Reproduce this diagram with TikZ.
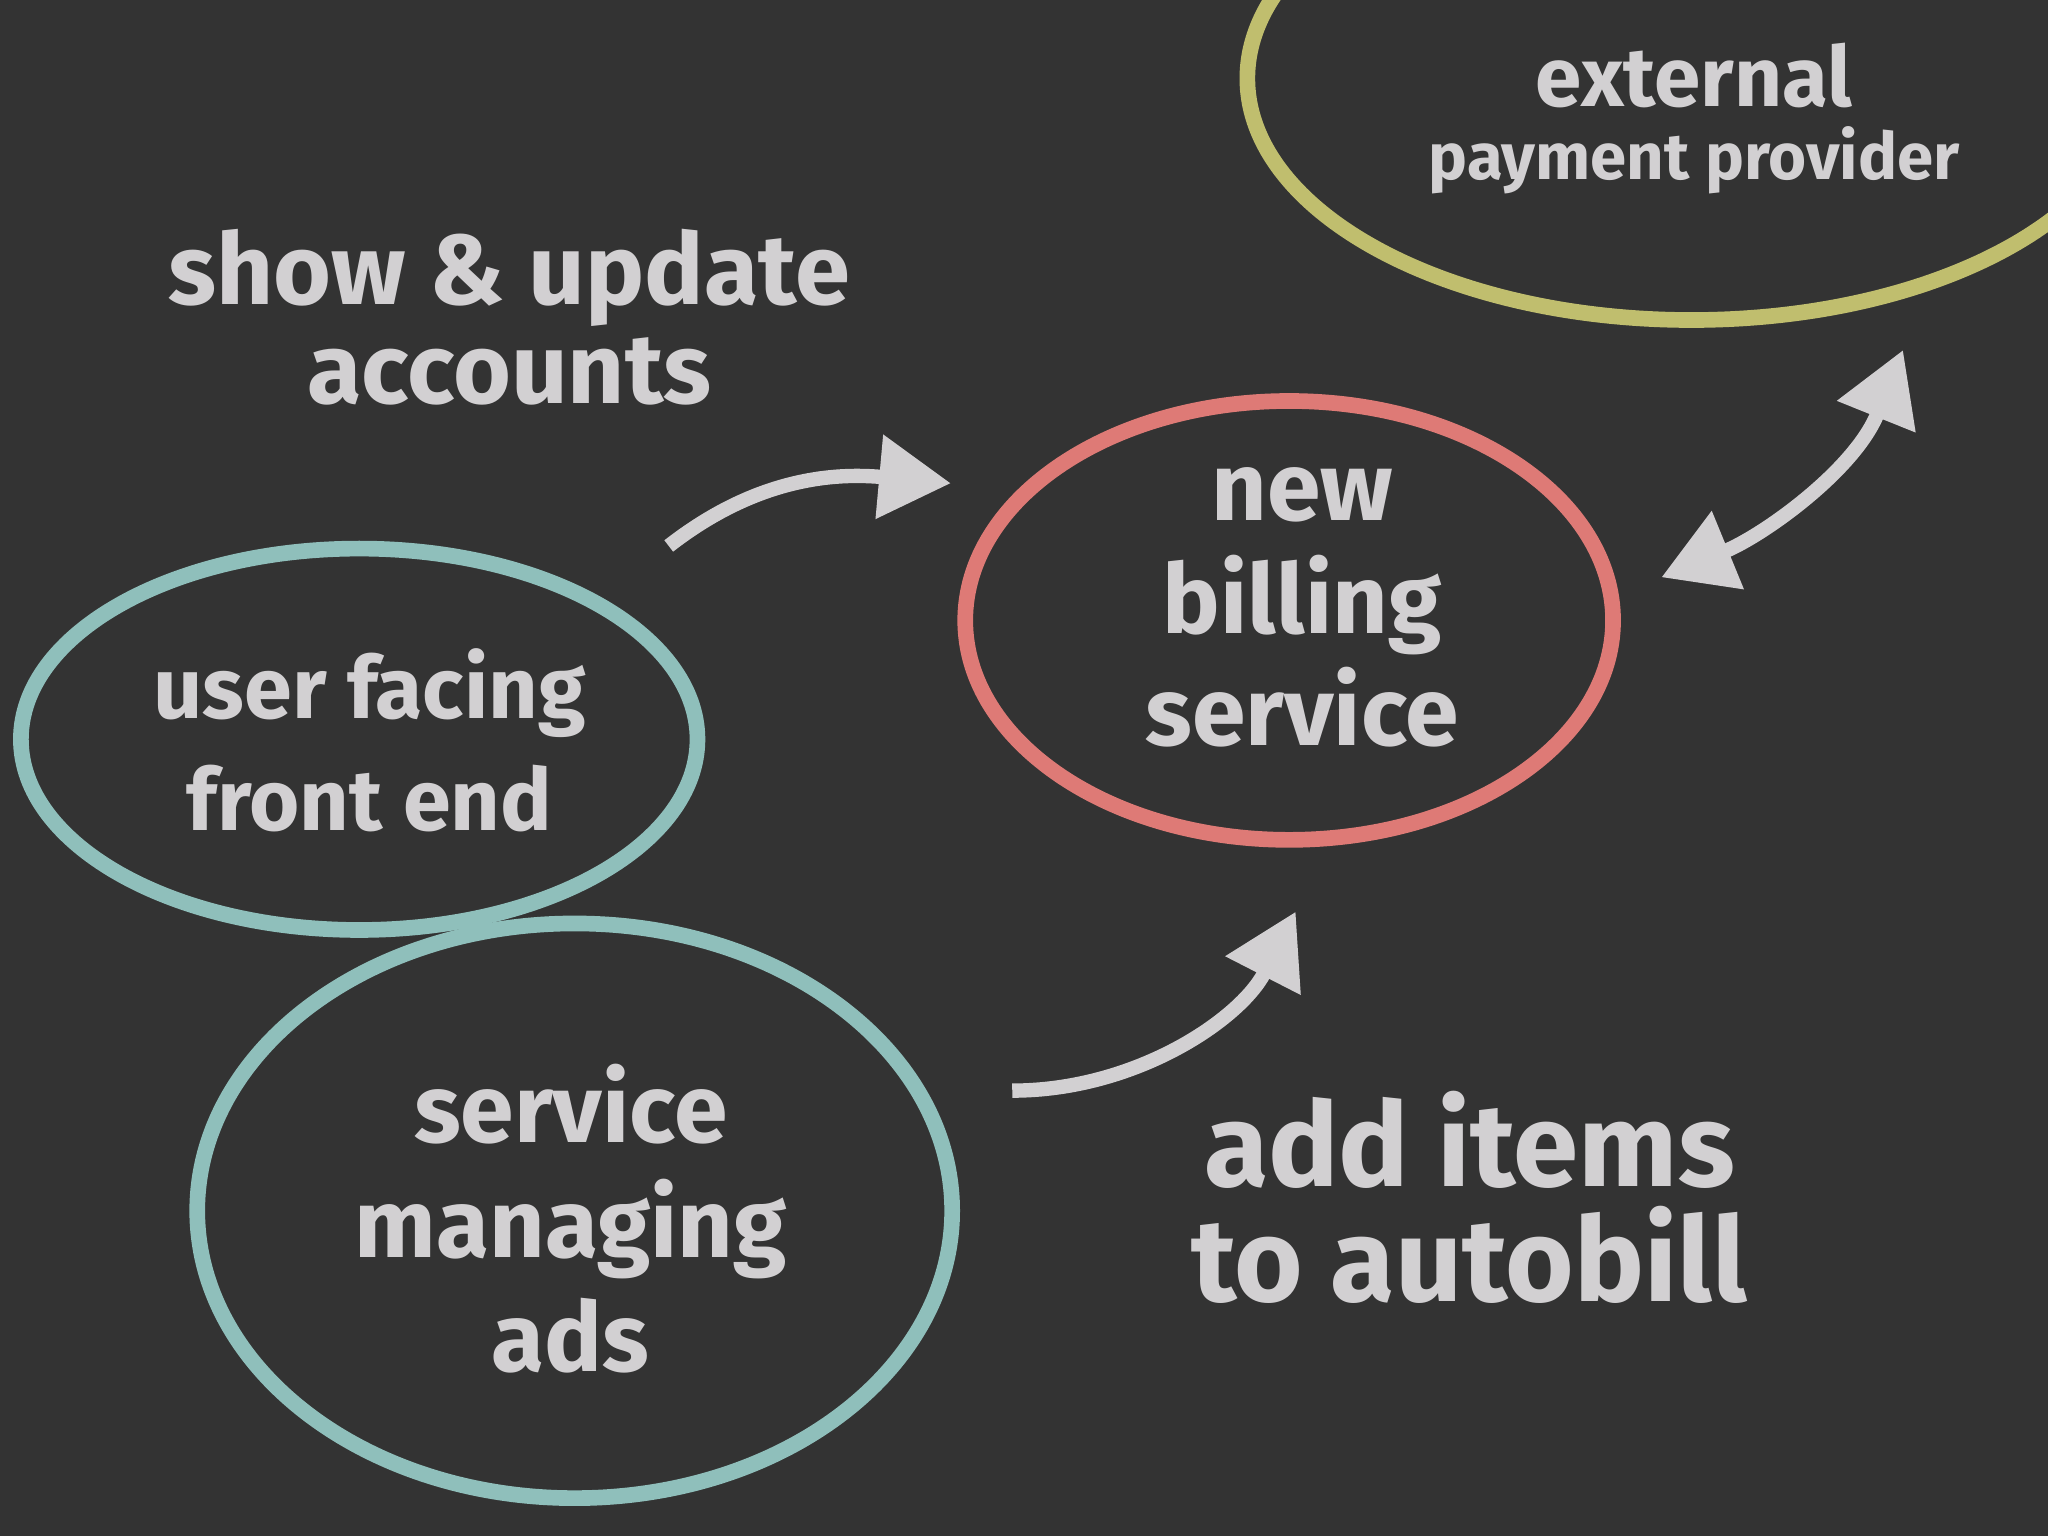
\documentclass[tikz,border=0pt]{standalone}
\usepackage{fontspec}
\setmainfont{Fira Sans}
\usetikzlibrary{arrows.meta,shapes.geometric}
\definecolor{bg}{HTML}{333333}
\definecolor{txt}{HTML}{D2D0D2}
\definecolor{teal}{HTML}{8FBFBB}
\definecolor{redc}{HTML}{DE7A76}
\definecolor{yel}{HTML}{C0BE6E}
\tikzset{
 ell/.style={ellipse,draw,line width=12pt,inner sep=0pt},
 lbl/.style 2 args={text=txt,align=center,font=\fontsize{#1}{#2}\selectfont\bfseries},
 arr/.style={draw=txt,line width=11pt,-{Triangle[length=55pt,width=62pt]}},
 darr/.style={draw=txt,line width=11pt,{Triangle[length=55pt,width=62pt]}-{Triangle[length=55pt,width=62pt]}}
}
\begin{document}
\begin{tikzpicture}[x=1pt,y=-1pt]
\fill[bg] (0,0) rectangle (1568,1176);
\useasboundingbox (0,0) rectangle (1568,1176);
\begin{scope}
\clip (0,0) rectangle (1568,1176);
\node[ell,draw=yel,minimum width=680pt,minimum height=370pt] (ext) at (1295,60) {};
\end{scope}
\node[ell,draw=teal,minimum width=518pt,minimum height=292pt] (ufe) at (275,566) {};
\node[ell,draw=teal,minimum width=578pt,minimum height=440pt] (sma) at (440,927) {};
\node[ell,draw=redc,minimum width=496pt,minimum height=336pt] (nbs) at (987,475) {};
\node[lbl={64}{64}] (t1) at (1297,58) {external};
\node[lbl={50}{50}] (t2) at (1297,123) {payment provider};
\node[lbl={76}{76}] (t3) at (390,243) {show \& update\\accounts};
\node[lbl={66}{86}] (t4) at (283,567) {user facing\\front end};
\node[lbl={74}{88}] (t5) at (437,933) {service\\managing\\ads};
\node[lbl={74}{86}] (t6) at (997,465) {new\\billing\\service};
\node[lbl={90}{88}] (t7) at (1125,917) {add items\\to autobill};
\coordinate (a1s) at (512,418);
\coordinate (a1e) at (728,370);
\coordinate (a2s) at (775,835);
\coordinate (a2e) at (992,698);
\coordinate (a3s) at (1272,442);
\coordinate (a3e) at (1457,268);
\draw[arr] (a1s) .. controls (580,365) and (640,362) .. (a1e);
\draw[arr] (a2s) .. controls (870,835) and (950,780) .. (a2e);
\draw[darr] (a3s) .. controls (1350,410) and (1420,360) .. (a3e);
\end{tikzpicture}
\end{document}
